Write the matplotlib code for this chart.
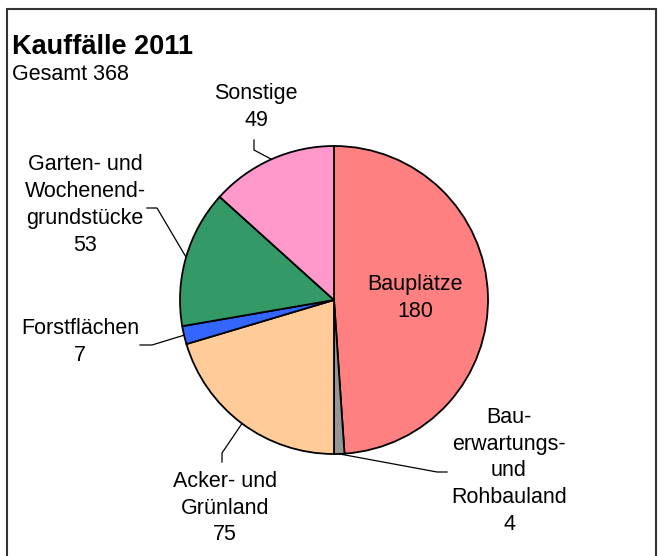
import numpy as np
import matplotlib
matplotlib.use("Agg")
import matplotlib.pyplot as plt
from matplotlib.patches import Rectangle

# Daten
kategorien = ["Bauplätze", "Bau-\nerwartungs-\nund\nRohbauland", "Acker- und\nGrünland",
              "Forstflächen", "Garten- und\nWochenend-\ngrundstücke", "Sonstige"]
werte = [180, 4, 75, 7, 53, 49]
farben = ["#FF8080", "#969696", "#FFCC99", "#3366FF", "#339966", "#FF99CC"]
titel = "Kauffälle 2011"
untertitel = "Gesamt 368"

W, H = 662, 556
plt.rcParams['font.family'] = ['Liberation Sans', 'DejaVu Sans']

fig = plt.figure(figsize=(W / 100, H / 100), dpi=100)
ax = fig.add_axes([0, 0, 1, 1])

def Y(y):
    # Pixel von oben -> Datenkoordinate
    return H - y

# Rahmen
ax.add_patch(Rectangle((7, -20), 649, Y(9) + 20, fill=False, edgecolor='#333333', linewidth=1.5))

cx, cy, r = 334, 300, 154
wedges, _ = ax.pie(werte, colors=farben, startangle=90, counterclock=False,
                   center=(cx, Y(cy)), radius=r, frame=True,
                   wedgeprops=dict(edgecolor='black', linewidth=1.3))
ax.set_xlim(0, W)
ax.set_ylim(0, H)
ax.set_aspect('equal')
ax.axis('off')

ax.text(12, Y(47), titel, fontsize=19.5, fontweight='bold', ha='left', va='center')
ax.text(12, Y(75), untertitel, fontsize=15.5, ha='left', va='center')

# Beschriftungen: (Textposition, Knickpunkt, Endpunkt) in Pixeln
layout = {
    0: dict(text=(415, 298), knick=None, ende=None),
    1: dict(text=(509, 471), knick=(437, 472), ende=(447, 472)),
    2: dict(text=(225, 508), knick=(222, 453), ende=(222, 462)),
    3: dict(text=(80, 342), knick=(152, 345), ende=(140, 345)),
    4: dict(text=(85, 205), knick=(157, 208), ende=(147, 208)),
    5: dict(text=(256, 107), knick=(254, 150), ende=(254, 140)),
}

for i, (w, name, wert) in enumerate(zip(wedges, kategorien, werte)):
    lay = layout[i]
    tx, ty = lay['text']
    ax.text(tx, Y(ty), f"{name}\n{wert}", fontsize=15.5, ha='center', va='center',
            multialignment='center', linespacing=1.37)
    if lay['knick'] is not None:
        ang = np.deg2rad((w.theta1 + w.theta2) / 2)
        ax_, ay_ = w.center[0] + r * np.cos(ang), w.center[1] + r * np.sin(ang)
        kx, ky = lay['knick']
        ex, ey = lay['ende']
        ax.plot([ax_, kx, ex], [ay_, Y(ky), Y(ey)], color='black', linewidth=0.9)

fig.savefig("out.png", dpi=100)
